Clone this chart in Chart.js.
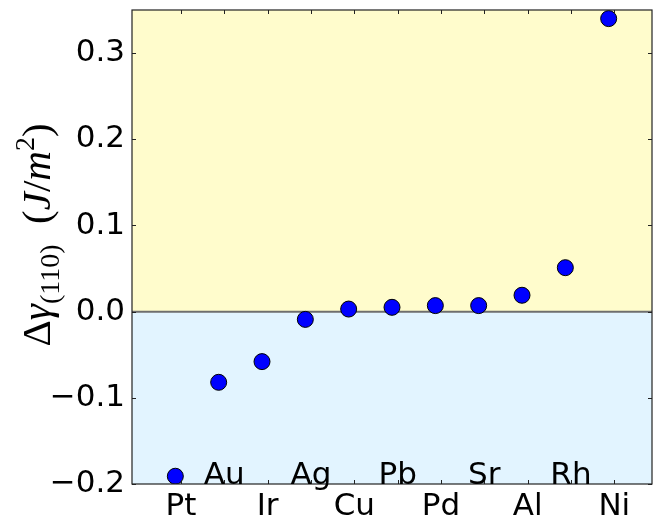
<!DOCTYPE html>
<html>
<head>
<meta charset="utf-8">
<script src="https://cdn.jsdelivr.net/npm/chart.js@4"></script>
<style>
  html, body { margin: 0; background: #fff; }
  canvas { display: block; }
</style>
</head>
<body>
<canvas id="chart" width="653" height="529"></canvas>
<script>
/* ── DATA ── */
const metals = ['Pt', 'Au', 'Ir', 'Ag', 'Cu', 'Pb', 'Pd', 'Sr', 'Al', 'Rh', 'Ni'];
const dGamma = [-0.191, -0.082, -0.058, -0.009, 0.003, 0.005, 0.007, 0.007, 0.019, 0.051, 0.340];
const yTicks = [-0.2, -0.1, 0.0, 0.1, 0.2, 0.3];

// tick labels sit a little right of the markers; odd ones go up into the plot
const LABEL_SHIFT = 0.13;
const FONT = '"DejaVu Sans", sans-serif';
const INK = '#222';

const fmt = v => (v < 0 ? '\u2212' : '') + Math.abs(v).toFixed(1);

/* ── PANEL: shaded halves, zero line, frame, inner ticks, upper labels ── */
const panel = {
  id: 'panel',
  beforeDatasetsDraw(chart) {
    const { ctx, chartArea: a, scales: { y } } = chart;
    const y0 = y.getPixelForValue(0);
    ctx.save();
    ctx.fillStyle = '#fffccc';
    ctx.fillRect(a.left, a.top, a.width, y0 - a.top);
    ctx.fillStyle = '#e2f4ff';
    ctx.fillRect(a.left, y0, a.width, a.bottom - y0);
    ctx.strokeStyle = '#6e6e6e';
    ctx.lineWidth = 2;
    ctx.beginPath();
    ctx.moveTo(a.left, y0);
    ctx.lineTo(a.right, y0);
    ctx.stroke();
    ctx.restore();
  },
  afterDatasetsDraw(chart) {
    const { ctx, chartArea: a, scales: { x, y } } = chart;
    ctx.save();
    ctx.strokeStyle = INK;
    ctx.lineWidth = 1.2;
    ctx.strokeRect(a.left, a.top, a.width, a.height);

    ctx.lineWidth = 1;
    ctx.beginPath();
    yTicks.forEach(v => {
      const py = Math.round(y.getPixelForValue(v)) + 0.5;
      ctx.moveTo(a.left, py); ctx.lineTo(a.left + 4, py);
      ctx.moveTo(a.right, py); ctx.lineTo(a.right - 4, py);
    });
    metals.forEach((m, i) => {
      const px = Math.round(x.getPixelForValue(i + LABEL_SHIFT)) + 0.5;
      ctx.moveTo(px, a.bottom); ctx.lineTo(px, a.bottom - 4);
      ctx.moveTo(px, a.top); ctx.lineTo(px, a.top + 4);
    });
    ctx.stroke();

    ctx.fillStyle = '#000';
    ctx.font = '31px ' + FONT;
    ctx.textAlign = 'center';
    ctx.textBaseline = 'alphabetic';
    metals.forEach((m, i) => {
      if (i % 2 === 1) ctx.fillText(m, x.getPixelForValue(i + LABEL_SHIFT), a.bottom);
    });
    ctx.restore();
  }
};

/* ── Y TITLE: Δγ(110) (J/m²) ── */
const yTitle = {
  id: 'yTitle',
  afterDraw(chart) {
    const { ctx, chartArea: a } = chart;
    const big = 41, small = 28;
    const serif = '"Liberation Serif", "DejaVu Serif", serif';
    const parts = [
      { t: '\u0394', f: `${big}px ${serif}`, dy: 0 },
      { t: '\u03b3', f: `italic ${big}px ${serif}`, dy: 0 },
      { t: '(110)', f: `${small}px ${serif}`, dy: 9 },
      { t: '  ', f: `${big}px ${serif}`, dy: 0 },
      { t: '(', f: `${big}px ${serif}`, dy: 0 },
      { t: 'J', f: `italic ${big}px ${serif}`, dy: 0 },
      { t: '/', f: `${big}px ${serif}`, dy: 0 },
      { t: 'm', f: `italic ${big}px ${serif}`, dy: 0 },
      { t: '2', f: `${small}px ${serif}`, dy: -16 },
      { t: ')', f: `${big}px ${serif}`, dy: 0 }
    ];
    ctx.save();
    let total = 0;
    parts.forEach(p => { ctx.font = p.f; p.w = ctx.measureText(p.t).width; total += p.w; });
    ctx.translate(50, (a.top + a.bottom) / 2 - 12);
    ctx.rotate(-Math.PI / 2);
    ctx.fillStyle = '#000';
    ctx.textBaseline = 'alphabetic';
    let cx = -total / 2;
    parts.forEach(p => {
      ctx.font = p.f;
      ctx.fillText(p.t, cx, p.dy);
      cx += p.w;
    });
    ctx.restore();
  }
};

/* ── CHART ── */
new Chart(document.getElementById('chart'), {
  type: 'scatter',
  data: {
    datasets: [{
      data: dGamma.map((v, i) => ({ x: i, y: v })),
      pointRadius: 8,
      pointHoverRadius: 8,
      backgroundColor: '#0000ff',
      borderColor: '#000',
      borderWidth: 1
    }]
  },
  options: {
    responsive: false,
    animation: false,
    layout: { autoPadding: false, padding: { top: 10, right: 1, left: 0, bottom: 0 } },
    plugins: { legend: { display: false }, tooltip: { enabled: false } },
    scales: {
      x: {
        type: 'linear',
        min: -1,
        max: metals.length,
        grid: { display: false, drawTicks: false },
        border: { display: false },
        afterBuildTicks: s => {
          s.ticks = metals.map((m, i) => ({ value: i + LABEL_SHIFT })).filter((t, i) => i % 2 === 0);
        },
        afterFit: s => { s.height = 45; s.paddingLeft = 0; s.paddingRight = 0; },
        ticks: {
          autoSkip: false,
          maxRotation: 0,
          padding: 4,
          color: '#000',
          font: { family: FONT, size: 31 },
          callback: v => metals[Math.round(v - LABEL_SHIFT)]
        }
      },
      y: {
        min: -0.2,
        max: 0.35,
        grid: { display: false, drawTicks: false },
        border: { display: false },
        afterBuildTicks: s => { s.ticks = yTicks.map(v => ({ value: v })); },
        afterFit: s => { s.width = 132; s.paddingTop = 0; s.paddingBottom = 0; },
        ticks: {
          padding: 7,
          color: '#000',
          font: { family: FONT, size: 31 },
          callback: v => fmt(v)
        }
      }
    }
  },
  plugins: [panel, yTitle]
});
</script>
</body>
</html>
